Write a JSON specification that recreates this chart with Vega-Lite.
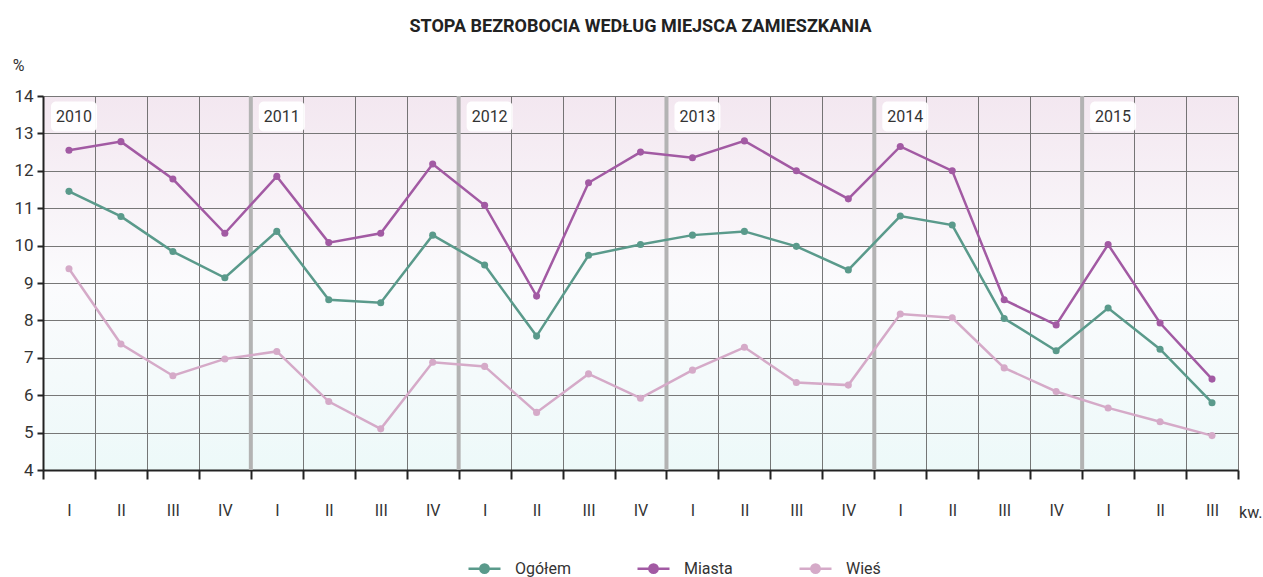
{
  "$schema": "https://vega.github.io/schema/vega-lite/v6.json",
  "autosize": "none",
  "width": 1195,
  "height": 374,
  "padding": {"left": 43, "top": 96, "right": 25, "bottom": 107},
  "background": "white",
  "title": {
    "text": "STOPA BEZROBOCIA WEDŁUG MIEJSCA ZAMIESZKANIA",
    "font": "Roboto, sans-serif",
    "fontSize": 18,
    "fontWeight": "bold",
    "color": "#222",
    "anchor": "middle",
    "frame": "group",
    "offset": 21
  },
  "config": {
    "view": {
      "stroke": null,
      "fill": {
        "gradient": "linear",
        "x1": 0, "y1": 0, "x2": 0, "y2": 1,
        "stops": [
          {"offset": 0, "color": "#f3e7f0"},
          {"offset": 0.5, "color": "#fbfbfd"},
          {"offset": 1, "color": "#edf9f9"}
        ]
      }
    },
    "font": "Roboto, sans-serif",
    "legend": {"padding": 0}
  },
  "datasets": {
    "series": [
      {"okres": "2010 I", "seria": "Miasta", "v": 12.55},
      {"okres": "2010 II", "seria": "Miasta", "v": 12.78},
      {"okres": "2010 III", "seria": "Miasta", "v": 11.78},
      {"okres": "2010 IV", "seria": "Miasta", "v": 10.33},
      {"okres": "2011 I", "seria": "Miasta", "v": 11.85},
      {"okres": "2011 II", "seria": "Miasta", "v": 10.08},
      {"okres": "2011 III", "seria": "Miasta", "v": 10.33},
      {"okres": "2011 IV", "seria": "Miasta", "v": 12.18},
      {"okres": "2012 I", "seria": "Miasta", "v": 11.08},
      {"okres": "2012 II", "seria": "Miasta", "v": 8.65},
      {"okres": "2012 III", "seria": "Miasta", "v": 11.68},
      {"okres": "2012 IV", "seria": "Miasta", "v": 12.5},
      {"okres": "2013 I", "seria": "Miasta", "v": 12.35},
      {"okres": "2013 II", "seria": "Miasta", "v": 12.8},
      {"okres": "2013 III", "seria": "Miasta", "v": 12.0},
      {"okres": "2013 IV", "seria": "Miasta", "v": 11.25},
      {"okres": "2014 I", "seria": "Miasta", "v": 12.65},
      {"okres": "2014 II", "seria": "Miasta", "v": 12.0},
      {"okres": "2014 III", "seria": "Miasta", "v": 8.55},
      {"okres": "2014 IV", "seria": "Miasta", "v": 7.88},
      {"okres": "2015 I", "seria": "Miasta", "v": 10.03},
      {"okres": "2015 II", "seria": "Miasta", "v": 7.93},
      {"okres": "2015 III", "seria": "Miasta", "v": 6.43},
      {"okres": "2010 I", "seria": "Ogółem", "v": 11.45},
      {"okres": "2010 II", "seria": "Ogółem", "v": 10.78},
      {"okres": "2010 III", "seria": "Ogółem", "v": 9.84},
      {"okres": "2010 IV", "seria": "Ogółem", "v": 9.14},
      {"okres": "2011 I", "seria": "Ogółem", "v": 10.38},
      {"okres": "2011 II", "seria": "Ogółem", "v": 8.55},
      {"okres": "2011 III", "seria": "Ogółem", "v": 8.47},
      {"okres": "2011 IV", "seria": "Ogółem", "v": 10.28},
      {"okres": "2012 I", "seria": "Ogółem", "v": 9.48},
      {"okres": "2012 II", "seria": "Ogółem", "v": 7.58},
      {"okres": "2012 III", "seria": "Ogółem", "v": 9.74},
      {"okres": "2012 IV", "seria": "Ogółem", "v": 10.03},
      {"okres": "2013 I", "seria": "Ogółem", "v": 10.28},
      {"okres": "2013 II", "seria": "Ogółem", "v": 10.38},
      {"okres": "2013 III", "seria": "Ogółem", "v": 9.98},
      {"okres": "2013 IV", "seria": "Ogółem", "v": 9.35},
      {"okres": "2014 I", "seria": "Ogółem", "v": 10.79},
      {"okres": "2014 II", "seria": "Ogółem", "v": 10.55},
      {"okres": "2014 III", "seria": "Ogółem", "v": 8.05},
      {"okres": "2014 IV", "seria": "Ogółem", "v": 7.19},
      {"okres": "2015 I", "seria": "Ogółem", "v": 8.33},
      {"okres": "2015 II", "seria": "Ogółem", "v": 7.23},
      {"okres": "2015 III", "seria": "Ogółem", "v": 5.8},
      {"okres": "2010 I", "seria": "Wieś", "v": 9.38},
      {"okres": "2010 II", "seria": "Wieś", "v": 7.37},
      {"okres": "2010 III", "seria": "Wieś", "v": 6.52},
      {"okres": "2010 IV", "seria": "Wieś", "v": 6.97},
      {"okres": "2011 I", "seria": "Wieś", "v": 7.17},
      {"okres": "2011 II", "seria": "Wieś", "v": 5.83},
      {"okres": "2011 III", "seria": "Wieś", "v": 5.1},
      {"okres": "2011 IV", "seria": "Wieś", "v": 6.88},
      {"okres": "2012 I", "seria": "Wieś", "v": 6.77},
      {"okres": "2012 II", "seria": "Wieś", "v": 5.54},
      {"okres": "2012 III", "seria": "Wieś", "v": 6.57},
      {"okres": "2012 IV", "seria": "Wieś", "v": 5.92},
      {"okres": "2013 I", "seria": "Wieś", "v": 6.67},
      {"okres": "2013 II", "seria": "Wieś", "v": 7.28},
      {"okres": "2013 III", "seria": "Wieś", "v": 6.34},
      {"okres": "2013 IV", "seria": "Wieś", "v": 6.27},
      {"okres": "2014 I", "seria": "Wieś", "v": 8.17},
      {"okres": "2014 II", "seria": "Wieś", "v": 8.07},
      {"okres": "2014 III", "seria": "Wieś", "v": 6.73},
      {"okres": "2014 IV", "seria": "Wieś", "v": 6.1},
      {"okres": "2015 I", "seria": "Wieś", "v": 5.66},
      {"okres": "2015 II", "seria": "Wieś", "v": 5.29},
      {"okres": "2015 III", "seria": "Wieś", "v": 4.92}
    ],
    "years": [
      {"okres": "2010 I", "rok": "2010", "sep": false},
      {"okres": "2011 I", "rok": "2011", "sep": true},
      {"okres": "2012 I", "rok": "2012", "sep": true},
      {"okres": "2013 I", "rok": "2013", "sep": true},
      {"okres": "2014 I", "rok": "2014", "sep": true},
      {"okres": "2015 I", "rok": "2015", "sep": true}
    ]
  },
  "encoding": {
    "x": {
      "field": "okres",
      "type": "ordinal",
      "sort": null,
      "scale": {
        "domain": ["2010 I","2010 II","2010 III","2010 IV","2011 I","2011 II","2011 III","2011 IV","2012 I","2012 II","2012 III","2012 IV","2013 I","2013 II","2013 III","2013 IV","2014 I","2014 II","2014 III","2014 IV","2015 I","2015 II","2015 III"],
        "type": "band",
        "paddingInner": 0,
        "paddingOuter": 0
      },
      "axis": {
        "title": "kw.",
        "titleFontSize": 16,
        "titleFontWeight": "normal",
        "titleColor": "#333",
        "titleX": 1219,
        "titleY": 42,
        "titleAlign": "right",
        "titleBaseline": "middle",
        "labelExpr": "split(datum.label, ' ')[1]",
        "labelAngle": 0,
        "labelFontSize": 16,
        "labelColor": "#333",
        "labelPadding": 31,
        "labelBaseline": "middle",
        "tickBand": "extent",
        "ticks": true,
        "tickSize": 9,
        "tickWidth": 2,
        "tickColor": "#222",
        "domainColor": "#222",
        "domainWidth": 2,
        "grid": true,
        "gridColor": "#555",
        "gridWidth": 1,
        "gridOpacity": 0.8
      }
    },
    "y": {
      "type": "quantitative",
      "scale": {"domain": [4, 14], "zero": false, "nice": false},
      "axis": {
        "values": [4,5,6,7,8,9,10,11,12,13,14],
        "labelOverlap": false,
        "title": "%",
        "titleAngle": 0,
        "titleFontSize": 16,
        "titleFontWeight": "normal",
        "titleColor": "#333",
        "titleX": -25,
        "titleY": -31,
        "titleAlign": "center",
        "titleBaseline": "middle",
        "labelFontSize": 17,
        "labelColor": "#333",
        "labelPadding": 4,
        "tickSize": 6,
        "tickWidth": 2,
        "tickColor": "#222",
        "domainColor": "#222",
        "domainWidth": 2,
        "grid": true,
        "gridColor": "#777",
        "gridWidth": 1
      }
    }
  },
  "layer": [
    {
      "data": {"name": "years"},
      "transform": [{"filter": "datum.sep"}],
      "mark": {"type": "rule", "color": "#b3b3b3", "strokeWidth": 4},
      "encoding": {
        "x": {"field": "okres", "type": "ordinal", "bandPosition": 0},
        "y": null
      }
    },
    {
      "data": {"name": "years"},
      "mark": {"type": "bar", "color": "white", "cornerRadius": 5, "width": 46, "xOffset": 5, "opacity": 0.95},
      "encoding": {
        "x": {"field": "okres", "type": "ordinal"},
        "y": {"datum": 13.85, "type": "quantitative"},
        "y2": {"datum": 13.05}
      }
    },
    {
      "data": {"name": "years"},
      "mark": {"type": "text", "fontSize": 16, "color": "#333", "xOffset": 5, "baseline": "middle"},
      "encoding": {
        "x": {"field": "okres", "type": "ordinal"},
        "y": {"datum": 13.44, "type": "quantitative"},
        "text": {"field": "rok"}
      }
    },
    {
      "data": {"name": "series"},
      "mark": {"type": "line", "strokeWidth": 2.5, "point": {"filled": true, "size": 50}},
      "encoding": {
        "y": {"field": "v", "type": "quantitative"},
        "color": {
          "field": "seria",
          "type": "nominal",
          "scale": {
            "domain": ["Ogółem", "Miasta", "Wieś"],
            "range": ["#5a9a8b", "#a25aa3", "#d5aac8"]
          },
          "legend": {
            "title": null,
            "orient": "none",
            "direction": "horizontal",
            "legendX": 424,
            "legendY": 455,
            "labelFontSize": 16,
            "labelColor": "#333",
            "columnPadding": 61,
            "symbolType": "M-1,0L1,0M-0.26,0A0.26,0.26,0,1,0,0.26,0A0.26,0.26,0,1,0,-0.26,0Z",
            "symbolSize": 1024,
            "symbolStrokeWidth": 2.5,
            "labelOffset": 13,
            "encode": {
              "symbols": {
                "update": {
                  "fill": {"scale": "color", "field": "value"},
                  "stroke": {"scale": "color", "field": "value"},
                  "opacity": {"value": 1}
                }
              }
            }
          }
        }
      }
    }
  ]
}
